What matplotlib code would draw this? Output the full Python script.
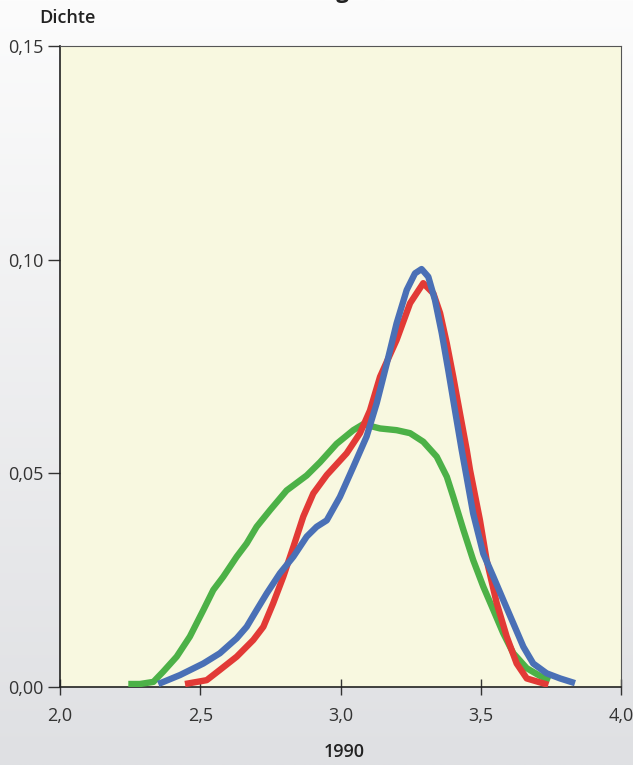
import numpy as np
import matplotlib
matplotlib.use("Agg")
import matplotlib.pyplot as plt

plt.rcParams['font.family'] = ['Open Sans', 'DejaVu Sans']

# Data (density estimates)
green_x = [2.2435, 2.285, 2.333, 2.368, 2.416, 2.463, 2.511, 2.5465, 2.582, 2.630, 2.6656,
           2.701, 2.749, 2.808, 2.8795, 2.927, 2.986, 3.0456, 3.081, 3.141, 3.200, 3.248,
           3.295, 3.343, 3.379, 3.402, 3.438, 3.473, 3.509, 3.545, 3.580, 3.616, 3.664,
           3.711, 3.747]
green_y = [0.0007, 0.0007, 0.0012, 0.0036, 0.0071, 0.0118, 0.0180, 0.0227, 0.0258, 0.0305,
           0.0336, 0.0375, 0.0414, 0.0460, 0.0495, 0.0526, 0.0569, 0.0601, 0.0615, 0.0605,
           0.0601, 0.0594, 0.0574, 0.0539, 0.0492, 0.0445, 0.0368, 0.0297, 0.0235, 0.0180,
           0.0126, 0.0079, 0.0044, 0.0026, 0.0016]

red_x = [2.4456, 2.523, 2.570, 2.630, 2.689, 2.725, 2.760, 2.796, 2.832, 2.8674, 2.903,
         2.951, 3.022, 3.0695, 3.105, 3.141, 3.200, 3.248, 3.295, 3.331, 3.355, 3.379,
         3.402, 3.426, 3.450, 3.4617, 3.497, 3.521, 3.557, 3.5925, 3.628, 3.664, 3.741]
red_y = [0.0007, 0.0016, 0.0040, 0.0071, 0.0110, 0.0141, 0.0196, 0.0258, 0.0328, 0.0399,
         0.0453, 0.0496, 0.0547, 0.0594, 0.0647, 0.0726, 0.0812, 0.0898, 0.0945, 0.0921,
         0.0875, 0.0804, 0.0726, 0.0640, 0.0555, 0.0508, 0.0391, 0.0297, 0.0196, 0.0118,
         0.0055, 0.0020, 0.0005]

blue_x = [2.3504, 2.428, 2.511, 2.570, 2.630, 2.6656, 2.701, 2.737, 2.784, 2.832, 2.8795,
          2.915, 2.951, 2.998, 3.0456, 3.093, 3.129, 3.165, 3.200, 3.236, 3.2656, 3.289,
          3.313, 3.337, 3.361, 3.384, 3.408, 3.432, 3.450, 3.473, 3.509, 3.545, 3.580,
          3.616, 3.652, 3.687, 3.735, 3.783, 3.836]
blue_y = [0.0007, 0.0028, 0.0055, 0.0079, 0.0114, 0.0141, 0.0180, 0.0219, 0.0266, 0.0305,
          0.0352, 0.0375, 0.0390, 0.0445, 0.0515, 0.0586, 0.0664, 0.0757, 0.0851, 0.0929,
          0.0968, 0.0978, 0.0960, 0.0905, 0.0828, 0.0742, 0.0648, 0.0555, 0.0490, 0.0406,
          0.0312, 0.0258, 0.0204, 0.0149, 0.0094, 0.0055, 0.0032, 0.0020, 0.0009]

x_ticks = [2.0, 2.5, 3.0, 3.5, 4.0]
x_ticklabels = ["2,0", "2,5", "3,0", "3,5", "4,0"]
y_ticks = [0.0, 0.05, 0.10, 0.15]
y_ticklabels = ["0,00", "0,05", "0,10", "0,15"]

fig = plt.figure(figsize=(6.33, 7.65), dpi=100)

# background gradient
bg = fig.add_axes([0, 0, 1, 1], zorder=-10)
grad = np.linspace(0, 1, 256).reshape(-1, 1)
top = np.array([252, 252, 252]) / 255
bot = np.array([223, 224, 227]) / 255
img = top + (bot - top) * grad[..., None]
img = img.reshape(256, 1, 3)
bg.imshow(img, aspect='auto', extent=[0, 1, 0, 1])
bg.axis('off')

ax = fig.add_axes([60/633, 78/765, 561/633, 641/765])
ax.set_facecolor('#f8f8e0')

lw = 4.6
ax.plot(green_x, green_y, color='#4cb147', lw=lw, solid_capstyle='butt',
        solid_joinstyle='round', zorder=3)
ax.plot(red_x, red_y, color='#e23a36', lw=lw, solid_capstyle='butt',
        solid_joinstyle='round', zorder=4)
ax.plot(blue_x, blue_y, color='#4a70b6', lw=lw, solid_capstyle='butt',
        solid_joinstyle='round', zorder=5)

ax.set_xlim(2.0, 4.0)
ax.set_ylim(0, 0.15)
ax.set_xticks(x_ticks)
ax.set_xticklabels(x_ticklabels)
ax.set_yticks(y_ticks)
ax.set_yticklabels(y_ticklabels)
ax.tick_params(axis='x', direction='inout', length=11, width=1, colors='#333333',
               labelsize=13, pad=9, labelcolor='#333333')
ax.tick_params(axis='y', direction='out', length=9, width=1, colors='#333333',
               labelsize=13, pad=3, labelcolor='#333333')
for s in ['left', 'bottom']:
    ax.spines[s].set_color('#222222')
    ax.spines[s].set_linewidth(1.2)
for s in ['top', 'right']:
    ax.spines[s].set_color('#555555')
    ax.spines[s].set_linewidth(0.8)

ax.set_xlabel('1990', fontsize=13, fontweight='semibold', color='#222222')
ax.xaxis.set_label_coords((344 - 60) / 561, -(752 - 687) / 641)
ax.xaxis.label.set_va('center')
fig.text(39/633, 1 - 18/765, 'Dichte', fontsize=13, fontweight='semibold',
         color='#222222', ha='left', va='center')
fig.text(349/633, 1.003, 'Verteilung', fontsize=16, fontweight='bold',
         color='#222222', ha='right', va='baseline')

fig.savefig('out.png', dpi=100)
